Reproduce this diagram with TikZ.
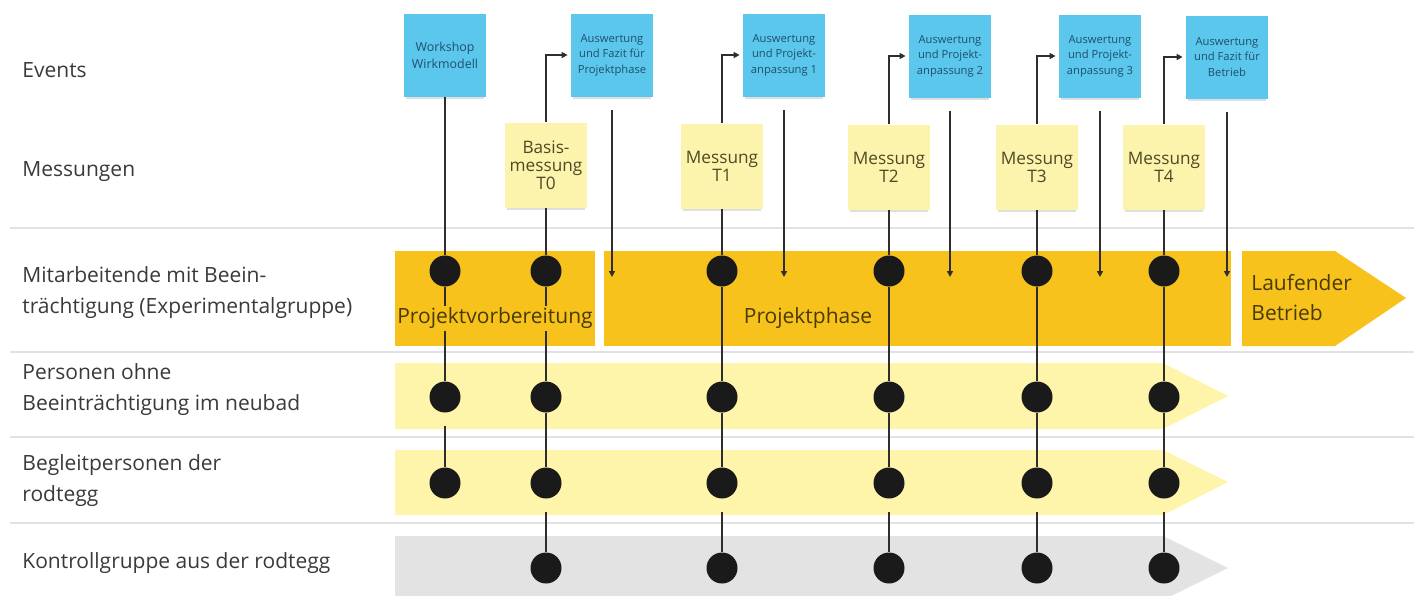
\documentclass[tikz,border=0pt]{standalone}
\usepackage{fontspec}
\setmainfont{Open Sans}
\usetikzlibrary{arrows.meta}
\usetikzlibrary{shadows}

\definecolor{barorange}{HTML}{F6C21B}
\definecolor{baryellow}{HTML}{FFF5AA}
\definecolor{bargray}{HTML}{E3E3E3}
\definecolor{stickyblue}{HTML}{5CC7EC}
\definecolor{stickyyellow}{HTML}{FCF3AC}
\definecolor{inkgray}{HTML}{3A3A3A}
\definecolor{inkblue}{HTML}{1F4F6E}
\definecolor{inkolive}{HTML}{4E4A25}
\definecolor{inkbrown}{HTML}{4A3A05}
\definecolor{rulegray}{HTML}{E2E2E6}
\definecolor{wiregray}{HTML}{2E2E2E}
\definecolor{dotblack}{HTML}{1A1A1A}

\tikzset{
  lane/.style={anchor=west, align=left, inner sep=0pt, text=inkgray, font=\fontsize{10.5}{15.5}\selectfont},
  event/.style={fill=stickyblue, minimum width=41pt, minimum height=41.5pt, inner sep=0pt, align=center,
    text=inkblue, font=\fontsize{5.6}{7.7}\selectfont,
    drop shadow={shadow xshift=0pt, shadow yshift=-2.5pt, shadow scale=0.94, opacity=0.25}},
  workshop/.style={event, font=\fontsize{6.2}{8.5}\selectfont},
  mess/.style={fill=stickyyellow, minimum width=41pt, minimum height=42.5pt, inner sep=0pt, align=center,
    text=inkolive, font=\fontsize{8.6}{9}\selectfont,
    drop shadow={shadow xshift=0pt, shadow yshift=-2.5pt, shadow scale=0.94, opacity=0.25}},
  phase/.style={inner sep=1pt, text=inkbrown, font=\fontsize{10.5}{15}\selectfont},
  dot/.style={circle, fill=dotblack, minimum size=15.5pt, inner sep=0pt},
  wire/.style={draw=wiregray, line width=1pt},
  feed/.style={draw=wiregray, line width=1pt, -{Triangle[length=3pt,width=3pt]}},
  rule/.style={draw=rulegray, line width=0.7pt}
}

\begin{document}
\begin{tikzpicture}[x=0.5pt, y=-0.5pt]
    \useasboundingbox[fill=white] (0,0) rectangle (1414,595);

    % separators between the groups
    \draw[rule] (10,228) -- (1414,228);
    \draw[rule] (10,352) -- (1414,352);
    \draw[rule] (10,437) -- (1414,437);
    \draw[rule] (10,523) -- (1414,523);

    % phase bars
    \fill[barorange] (395,251) rectangle (595,346);
    \fill[barorange] (604,251) rectangle (1231,346);
    \fill[barorange] (1242,251) -- (1335,251) -- (1406,298) -- (1335,346) -- (1242,346) -- cycle;
    \fill[baryellow] (395,363) -- (1163,363) -- (1228,396) -- (1163,429) -- (395,429) -- cycle;
    \fill[baryellow] (395,450) -- (1163,450) -- (1228,482) -- (1163,515) -- (395,515) -- cycle;
    \fill[bargray] (395,536) -- (1163,536) -- (1228,568) -- (1163,600) -- (395,600) -- cycle;

    % row labels
    \node[lane] (ev) at (22,70) {Events};
    \node[lane] (me) at (22,172) {Messungen};
    \node[lane] (gr1) at (22,293) {Mitarbeitende mit Beein-\\trächtigung (Experimentalgruppe)};
    \node[lane] (gr2) at (22,390) {Personen ohne\\Beeinträchtigung im neubad};
    \node[lane] (gr3) at (22,481) {Begleitpersonen der\\rodtegg};
    \node[lane] (gr4) at (22,563) {Kontrollgruppe aus der rodtegg};

    % events
    \node[workshop] (ws) at (445,55) {Workshop\\Wirkmodell};
    \node[event] (ap) at (612,55) {Auswertung\\und Fazit für\\Projektphase};
    \node[event] (a1) at (784,55) {Auswertung\\und Projekt-\\anpassung 1};
    \node[event] (a2) at (950,56) {Auswertung\\und Projekt-\\anpassung 2};
    \node[event] (a3) at (1100,56) {Auswertung\\und Projekt-\\anpassung 3};
    \node[event] (ab) at (1227,57) {Auswertung\\und Fazit für\\Betrieb};

    % measurements
    \node[mess] (m0) at (546,165) {Basis-\\messung\\T0};
    \node[mess] (m1) at (722,166) {Messung\\T1};
    \node[mess] (m2) at (889,167) {Messung\\T2};
    \node[mess] (m3) at (1037,167) {Messung\\T3};
    \node[mess] (m4) at (1164,167) {Messung\\T4};

    % measurement points
    \node[dot] (d11) at (445,271) {};
    \node[dot] (d21) at (445,397) {};
    \node[dot] (d31) at (445,483) {};
    \node[dot] (d12) at (546,271) {};
    \node[dot] (d22) at (546,397) {};
    \node[dot] (d32) at (546,483) {};
    \node[dot] (d42) at (546,568) {};
    \node[dot] (d13) at (722,271) {};
    \node[dot] (d23) at (722,397) {};
    \node[dot] (d33) at (722,483) {};
    \node[dot] (d43) at (722,568) {};
    \node[dot] (d14) at (889,271) {};
    \node[dot] (d24) at (889,397) {};
    \node[dot] (d34) at (889,483) {};
    \node[dot] (d44) at (889,568) {};
    \node[dot] (d15) at (1037,271) {};
    \node[dot] (d25) at (1037,397) {};
    \node[dot] (d35) at (1037,483) {};
    \node[dot] (d45) at (1037,568) {};
    \node[dot] (d16) at (1164,271) {};
    \node[dot] (d26) at (1164,397) {};
    \node[dot] (d36) at (1164,483) {};
    \node[dot] (d46) at (1164,568) {};

    % vertical timelines
    \draw[wire, shorten <=6.5pt] (ws) -- (d11) -- (d21) -- (d31);
    \draw[wire, shorten <=6.5pt] (m0) -- (d12) -- (d22) -- (d32) -- (d42);
    \draw[wire, shorten <=6.5pt] (m1) -- (d13) -- (d23) -- (d33) -- (d43);
    \draw[wire, shorten <=6.5pt] (m2) -- (d14) -- (d24) -- (d34) -- (d44);
    \draw[wire, shorten <=6.5pt] (m3) -- (d15) -- (d25) -- (d35) -- (d45);
    \draw[wire, shorten <=6.5pt] (m4) -- (d16) -- (d26) -- (d36) -- (d46);

    % results feed into the evaluations
    \draw[feed, shorten >=1.5pt] (m0.north) |- (ap.west);
    \draw[feed, shorten >=1.5pt] (m1.north) |- (a1.west);
    \draw[feed, shorten >=1.5pt] (m2.north) |- (a2.west);
    \draw[feed, shorten >=1.5pt] (m3.north) |- (a3.west);
    \draw[feed, shorten >=1.5pt] (m4.north) |- (ab.west);

    % evaluations act on the project
    \coordinate (apx) at (612,277);
    \coordinate (a1x) at (784,277);
    \coordinate (a2x) at (950,277);
    \coordinate (a3x) at (1100,277);
    \coordinate (abx) at (1227,277);
    \draw[feed, shorten <=6.5pt] (ap) -- (apx);
    \draw[feed, shorten <=6.5pt] (a1) -- (a1x);
    \draw[feed, shorten <=6.5pt] (a2) -- (a2x);
    \draw[feed, shorten <=6.5pt] (a3) -- (a3x);
    \draw[feed, shorten <=6.5pt] (ab) -- (abx);

    % phase names
    \node[phase, fill=barorange] (pv) at (495,318) {Projektvorbereitung};
    \node[phase] (pp) at (808,318) {Projektphase};
    \node[phase, anchor=west, align=left, inner sep=0pt] (lb) at (1251,298) {Laufender\\Betrieb};
\end{tikzpicture}
\end{document}
